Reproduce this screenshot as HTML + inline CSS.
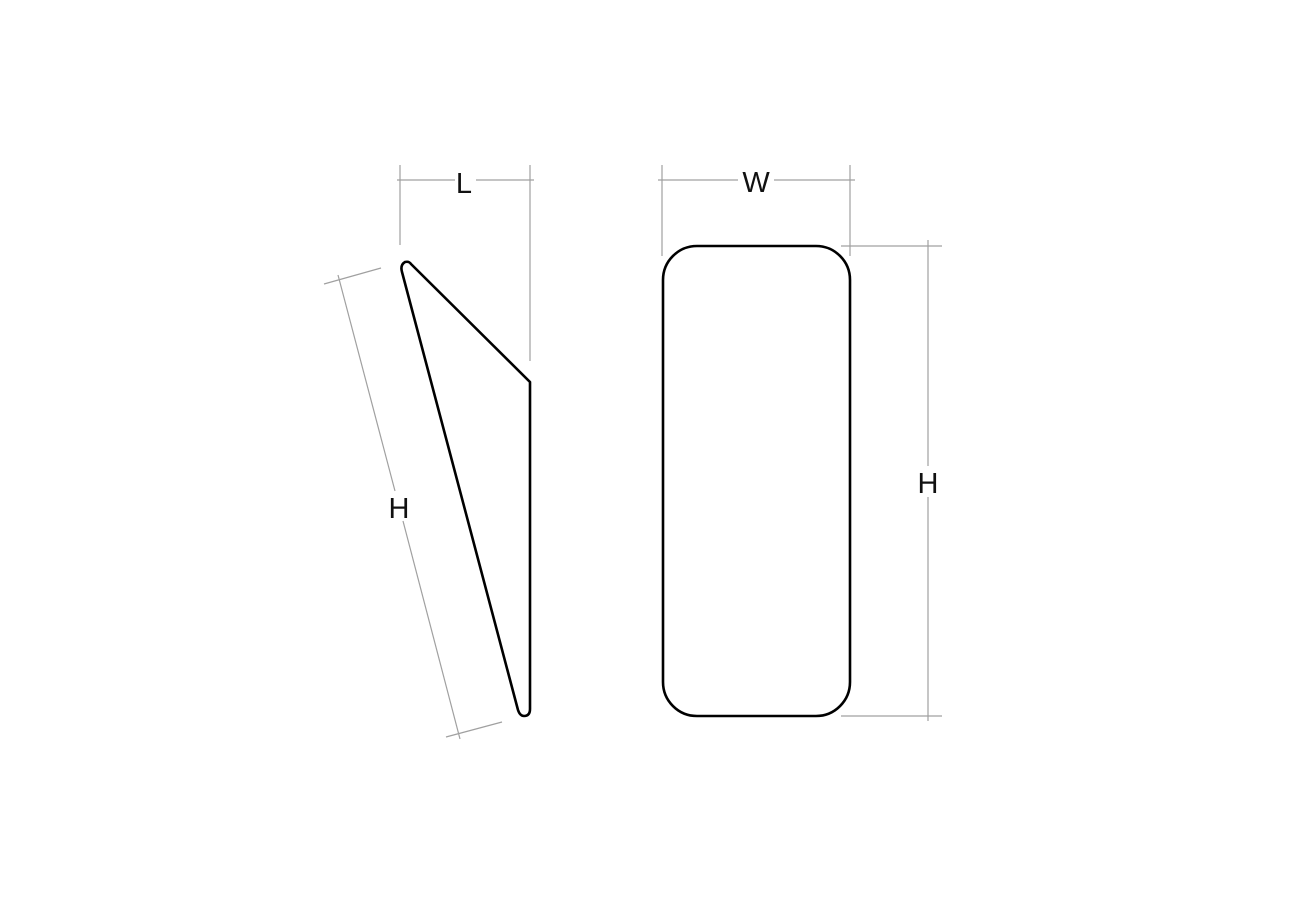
<!DOCTYPE html>
<html><head><meta charset="utf-8"><style>
html,body{margin:0;padding:0;background:#fff;}
svg{display:block;}
text{font-family:"Liberation Sans",sans-serif;font-size:29px;fill:#111;}
</style></head><body>
<svg width="1300" height="916" viewBox="0 0 1300 916" xmlns="http://www.w3.org/2000/svg">
<rect width="1300" height="916" fill="#fff"/>
<g stroke="#a0a0a0" stroke-width="1.2" fill="none">
  <!-- L dimension -->
  <line x1="400" y1="165" x2="400" y2="245"/>
  <line x1="530" y1="165" x2="530" y2="361"/>
  <line x1="397" y1="180" x2="455" y2="180"/>
  <line x1="476" y1="180" x2="534" y2="180"/>
  <!-- W dimension -->
  <line x1="662" y1="165" x2="662" y2="256"/>
  <line x1="850" y1="165" x2="850" y2="256"/>
  <line x1="658" y1="180" x2="738" y2="180"/>
  <line x1="774" y1="180" x2="855" y2="180"/>
  <!-- right H -->
  <line x1="841" y1="246" x2="942" y2="246"/>
  <line x1="841" y1="716" x2="942" y2="716"/>
  <line x1="928" y1="240" x2="928" y2="466"/>
  <line x1="928" y1="497" x2="928" y2="721"/>
  <!-- left slanted H -->
  <line x1="324" y1="284" x2="381" y2="268"/>
  <line x1="446" y1="737" x2="502" y2="722"/>
  <line x1="338" y1="275" x2="395" y2="491"/>
  <line x1="403" y1="521" x2="460" y2="739"/>
</g>
<g stroke="#000" stroke-width="2.6" fill="none" stroke-linejoin="round">
  <path d="M411,264 L530,382 L530,709 Q530,716 524,716 Q520,716 518,710 L402,272 Q400,265 405,262 Q409,261 411,264 Z"/>
  <rect x="663" y="246" width="187" height="470" rx="34" ry="34"/>
</g>
<text x="464" y="193" text-anchor="middle">L</text>
<text x="756" y="192" text-anchor="middle">W</text>
<text x="928" y="493" text-anchor="middle">H</text>
<text x="399" y="518" text-anchor="middle">H</text>
</svg>
</body></html>
